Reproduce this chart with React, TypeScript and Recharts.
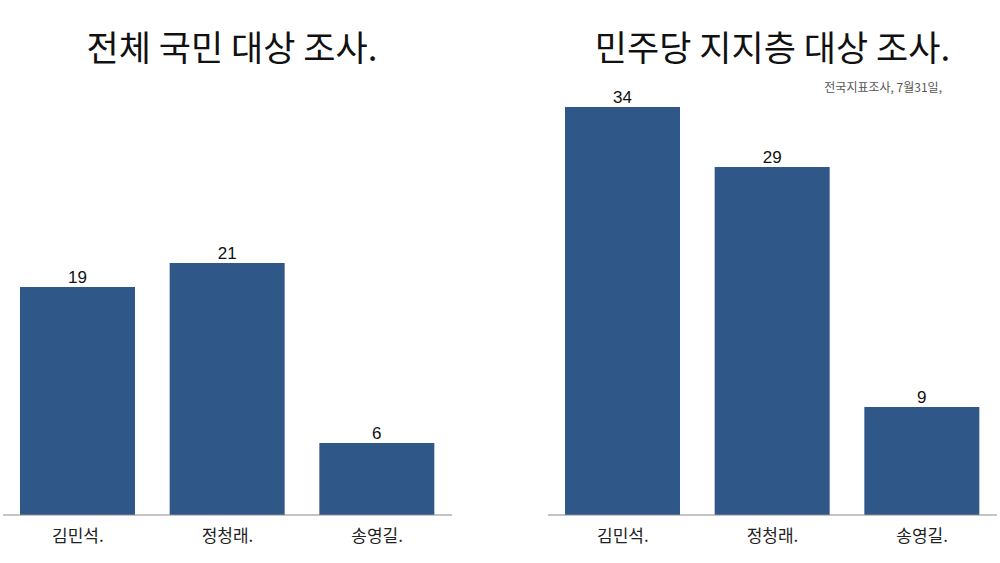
import { BarChart, Bar, XAxis, YAxis, LabelList } from 'recharts';

const candidates = ['김민석.', '정청래.', '송영길.'];
const allVoters = [19, 21, 6];
const partyVoters = [34, 29, 9];

const leftTitle = '전체 국민 대상 조사.';
const rightTitle = '민주당 지지층 대상 조사.';
const rightNote = '전국지표조사, 7월31일,';

const BAR_COLOR = '#2f5889';
const FONT = '"Liberation Sans", "Noto Sans CJK KR", sans-serif';
const KR_FONT = '"Noto Sans CJK KR", "Liberation Sans", sans-serif';

function Panel({ values }: { values: number[] }) {
  const data = candidates.map((name, i) => ({ name, value: values[i] }));
  return (
    <BarChart
      width={449}
      height={563}
      data={data}
      margin={{ top: 35, right: 0, bottom: 0, left: 0 }}
    >
      <XAxis
        dataKey="name"
        height={48}
        tickLine={false}
        tickMargin={9}
        axisLine={{ stroke: '#8a8a8a', strokeWidth: 1 }}
        tick={{ fill: '#222', fontSize: 17, fontFamily: KR_FONT }}
      />
      <YAxis hide domain={[0, 40]} allowDataOverflow />
      <Bar dataKey="value" fill={BAR_COLOR} barSize={115} isAnimationActive={false}>
        <LabelList
          dataKey="value"
          position="top"
          offset={4}
          style={{ fill: '#111', fontSize: 17, fontFamily: FONT }}
        />
      </Bar>
    </BarChart>
  );
}

export default function App() {
  return (
    <div
      style={{
        position: 'absolute',
        left: 0,
        top: 0,
        width: 1000,
        height: 563,
        background: '#fff',
        overflow: 'hidden',
      }}
    >
      <div style={{ position: 'absolute', left: 3, top: 0 }}>
        <Panel values={allVoters} />
      </div>
      <div style={{ position: 'absolute', left: 548, top: 0 }}>
        <Panel values={partyVoters} />
      </div>
      <div
        style={{
          position: 'absolute',
          left: 0,
          width: 464,
          top: 22,
          textAlign: 'center',
          fontFamily: KR_FONT,
          fontSize: 35,
          color: '#111',
          lineHeight: '48px',
        }}
      >
        {leftTitle}
      </div>
      <div
        style={{
          position: 'absolute',
          left: 548,
          width: 449,
          top: 22,
          textAlign: 'center',
          fontFamily: KR_FONT,
          fontSize: 35,
          color: '#111',
          lineHeight: '48px',
        }}
      >
        {rightTitle}
      </div>
      <div
        style={{
          position: 'absolute',
          right: 58,
          top: 79,
          fontFamily: KR_FONT,
          fontSize: 12,
          color: '#555',
          lineHeight: '16px',
        }}
      >
        {rightNote}
      </div>
    </div>
  );
}
